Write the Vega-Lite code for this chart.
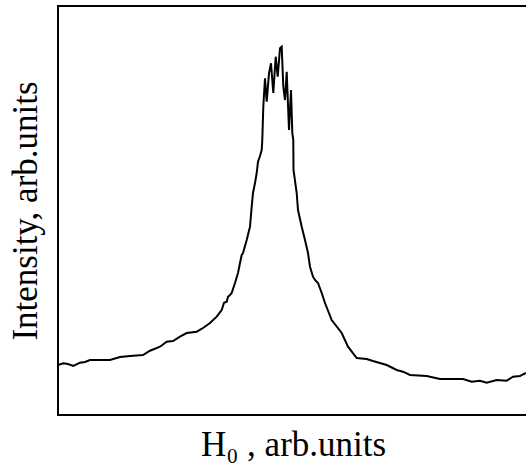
{
  "$schema": "https://vega.github.io/schema/vega-lite/v6.json",
  "autosize": "none",
  "padding": {"left": 58, "top": 6, "right": 0, "bottom": 58},
  "width": 470,
  "height": 409,
  "background": "white",
  "config": {"view": {"stroke": "black", "strokeWidth": 2}},
  "data": {"values": [
    {"h": 58, "intensity": 50}, {"h": 63.3, "intensity": 51.7}, {"h": 68, "intensity": 51}, {"h": 73.3, "intensity": 49},
    {"h": 80, "intensity": 52.3}, {"h": 85, "intensity": 53}, {"h": 90, "intensity": 55}, {"h": 100, "intensity": 55},
    {"h": 110, "intensity": 55}, {"h": 120, "intensity": 58}, {"h": 130, "intensity": 59}, {"h": 143, "intensity": 60},
    {"h": 150, "intensity": 64.3}, {"h": 160, "intensity": 68.3}, {"h": 166.7, "intensity": 73.3}, {"h": 173, "intensity": 74},
    {"h": 180, "intensity": 78.3}, {"h": 186.7, "intensity": 82}, {"h": 196.7, "intensity": 83.3}, {"h": 203, "intensity": 87},
    {"h": 210, "intensity": 92}, {"h": 216.7, "intensity": 98.3}, {"h": 221.7, "intensity": 105}, {"h": 224, "intensity": 112.3},
    {"h": 226.7, "intensity": 113.3}, {"h": 228, "intensity": 118.3}, {"h": 230, "intensity": 120}, {"h": 231.7, "intensity": 122},
    {"h": 233, "intensity": 126}, {"h": 235, "intensity": 132}, {"h": 238, "intensity": 142}, {"h": 240, "intensity": 152},
    {"h": 241.7, "intensity": 160}, {"h": 243, "intensity": 162}, {"h": 246.7, "intensity": 175}, {"h": 250, "intensity": 188.3},
    {"h": 251.7, "intensity": 208.3}, {"h": 253, "intensity": 222}, {"h": 255, "intensity": 232}, {"h": 256.7, "intensity": 242},
    {"h": 258, "intensity": 253.3}, {"h": 260, "intensity": 259}, {"h": 261.7, "intensity": 265}, {"h": 262.3, "intensity": 275},
    {"h": 263.3, "intensity": 308.3}, {"h": 265, "intensity": 336.7}, {"h": 266.7, "intensity": 313.3}, {"h": 269, "intensity": 341.7},
    {"h": 271, "intensity": 351.7}, {"h": 273.3, "intensity": 322}, {"h": 275.7, "intensity": 358.3}, {"h": 277.7, "intensity": 338.3},
    {"h": 280, "intensity": 366.7}, {"h": 281.7, "intensity": 368.3}, {"h": 283.3, "intensity": 328.3}, {"h": 285, "intensity": 315},
    {"h": 286.7, "intensity": 343.3}, {"h": 289, "intensity": 285}, {"h": 291, "intensity": 325}, {"h": 292.3, "intensity": 282},
    {"h": 293.3, "intensity": 275}, {"h": 293.5, "intensity": 245}, {"h": 296.7, "intensity": 222}, {"h": 298, "intensity": 205},
    {"h": 301.7, "intensity": 188.3}, {"h": 305, "intensity": 175}, {"h": 308, "intensity": 162}, {"h": 310, "intensity": 148.3},
    {"h": 313, "intensity": 138.3}, {"h": 315, "intensity": 135}, {"h": 318, "intensity": 132}, {"h": 321.7, "intensity": 122},
    {"h": 325, "intensity": 112}, {"h": 331.7, "intensity": 95}, {"h": 341.7, "intensity": 82}, {"h": 348, "intensity": 68.3},
    {"h": 356.7, "intensity": 57}, {"h": 366.7, "intensity": 56}, {"h": 373, "intensity": 54}, {"h": 386.7, "intensity": 50},
    {"h": 396.7, "intensity": 45}, {"h": 403, "intensity": 43.3}, {"h": 410, "intensity": 40}, {"h": 426.7, "intensity": 39},
    {"h": 440, "intensity": 36}, {"h": 463, "intensity": 36}, {"h": 471.7, "intensity": 33.3}, {"h": 480, "intensity": 34.3},
    {"h": 486.7, "intensity": 32.3}, {"h": 496.7, "intensity": 35}, {"h": 506.7, "intensity": 34.3}, {"h": 513, "intensity": 38.3},
    {"h": 520, "intensity": 39}, {"h": 526, "intensity": 42}
  ]},
  "mark": {"type": "line", "color": "black", "strokeWidth": 2, "clip": true},
  "encoding": {
    "x": {
      "field": "h", "type": "quantitative",
      "scale": {"domain": [58, 528], "nice": false, "zero": false},
      "axis": {"title": "H₀ , arb.units", "domain": false, "ticks": false, "labels": false, "grid": false,
        "titleFont": "Liberation Serif", "titleFontSize": 35, "titleFontWeight": "normal", "titleColor": "black", "titlePadding": 12}
    },
    "y": {
      "field": "intensity", "type": "quantitative",
      "scale": {"domain": [0, 409], "nice": false, "zero": false},
      "axis": {"title": "Intensity, arb.units", "domain": false, "ticks": false, "labels": false, "grid": false,
        "titleFont": "Liberation Serif", "titleFontSize": 35, "titleFontWeight": "normal", "titleColor": "black", "titlePadding": 15}
    }
  }
}
